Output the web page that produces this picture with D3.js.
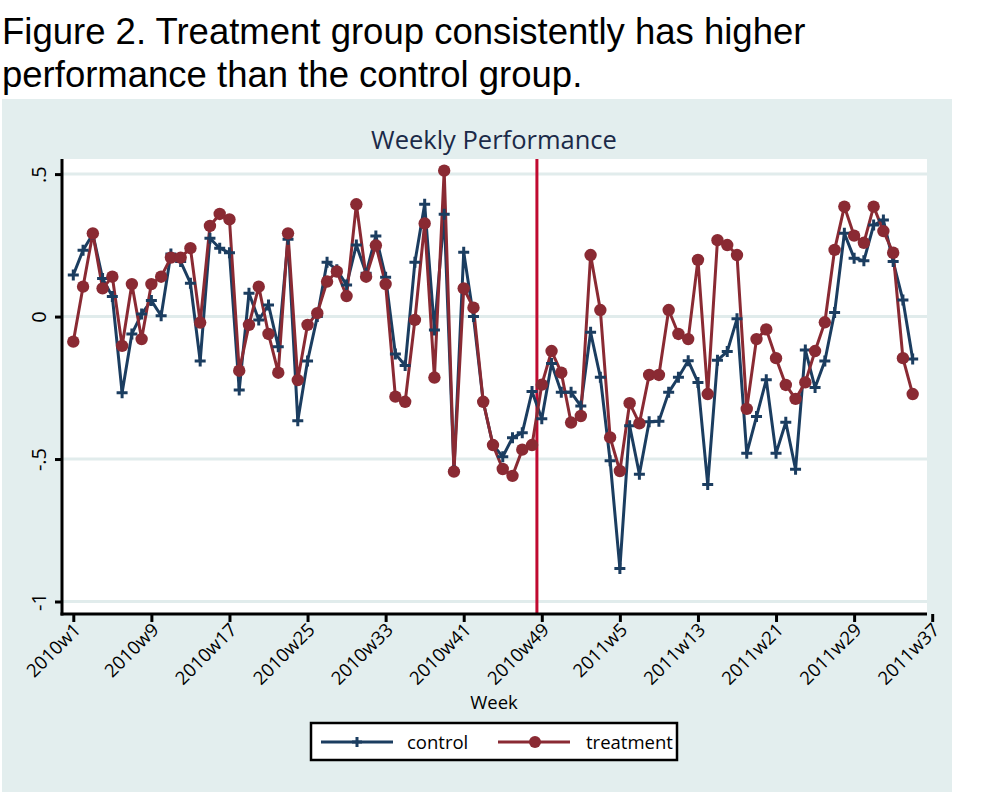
<!DOCTYPE html>
<html>
<head>
<meta charset="utf-8">
<script src="https://cdn.jsdelivr.net/npm/d3@7"></script>
<style>
  html, body { margin: 0; padding: 0; background: #ffffff; }
  svg { display: block; }
</style>
</head>
<body>
<svg id="chart" width="981" height="797"></svg>
<script>
// ---- data (week index 0 = 2010w1, index 86 = 2011w35) ----
const control = [
  0.146, 0.233, 0.290, 0.134, 0.070, -0.267, -0.061, 0.009, 0.056, 0.003,
  0.220, 0.193, 0.117, -0.156, 0.275, 0.240, 0.224, -0.258, 0.082, -0.012,
  0.041, -0.106, 0.271, -0.366, -0.156, 0.000, 0.191, 0.164, 0.111, 0.251,
  0.152, 0.283, 0.138, -0.131, -0.172, 0.191, 0.394, -0.047, 0.359, -0.540,
  0.226, 0.000, -0.299, -0.451, -0.492, -0.425, -0.408, -0.263, -0.359, -0.165,
  -0.266, -0.266, -0.314, -0.055, -0.213, -0.506, -0.884, -0.383, -0.553, -0.369,
  -0.367, -0.266, -0.213, -0.155, -0.231, -0.589, -0.153, -0.123, -0.008, -0.480,
  -0.351, -0.222, -0.480, -0.371, -0.536, -0.117, -0.249, -0.156, 0.014, 0.292,
  0.205, 0.196, 0.321, 0.339, 0.193, 0.058, -0.149
];
const treatment = [
  -0.088, 0.105, 0.292, 0.099, 0.140, -0.103, 0.114, -0.079, 0.114, 0.140,
  0.207, 0.207, 0.240, -0.021, 0.318, 0.360, 0.341, -0.190, -0.029, 0.105,
  -0.061, -0.197, 0.292, -0.223, -0.029, 0.012, 0.123, 0.158, 0.072, 0.394,
  0.140, 0.250, 0.114, -0.281, -0.299, -0.012, 0.327, -0.214, 0.512, -0.544,
  0.099, 0.031, -0.299, -0.451, -0.535, -0.559, -0.467, -0.451, -0.239, -0.121,
  -0.197, -0.372, -0.349, 0.216, 0.023, -0.424, -0.542, -0.304, -0.375, -0.205,
  -0.205, 0.023, -0.061, -0.079, 0.199, -0.272, 0.268, 0.251, 0.216, -0.324,
  -0.079, -0.045, -0.146, -0.240, -0.289, -0.231, -0.121, -0.020, 0.234, 0.386,
  0.284, 0.259, 0.386, 0.300, 0.224, -0.146, -0.272
];
const xTickIndex = [0, 8, 16, 24, 32, 40, 48, 56, 64, 72, 80, 88];
const xTickLabels = ["2010w1", "2010w9", "2010w17", "2010w25", "2010w33", "2010w41",
                     "2010w49", "2011w5", "2011w13", "2011w21", "2011w29", "2011w37"];
const yTicks = [0.5, 0, -0.5, -1];
const yTickLabels = [".5", "0", "-.5", "-1"];
const markerLine = 47.5;   // vertical reference line (between 2010w48 and 2010w49)
const seriesNames = ["control", "treatment"];

// ---- layout ----
const svg = d3.select("#chart");
const colControl = "#1b3d60";
const colTreat = "#8a2a33";
const colRef = "#c00a30";
const bg = "#e3eeee";
const gridCol = "#e1ecec";
const sans = "Open Sans, DejaVu Sans, sans-serif";

const plot = { left: 62, right: 927, top: 159, bottom: 614 };
const x = d3.scaleLinear().domain([0, 88]).range([73.3, 932.2]);
const y = d3.scaleLinear().domain([0.5, -1]).range([174.1, 601.5]);

// figure title
const ft = svg.append("text").attr("font-family", "Liberation Sans, Arial, sans-serif")
  .attr("font-size", 36.5).attr("fill", "#000");
ft.append("tspan").attr("x", 2).attr("y", 44).text("Figure 2. Treatment group consistently has higher");
ft.append("tspan").attr("x", 2).attr("y", 87).text("performance than the control group.");

// graph background
svg.append("rect").attr("x", 2).attr("y", 99).attr("width", 950).attr("height", 693).attr("fill", bg);
svg.append("rect").attr("x", plot.left).attr("y", plot.top)
  .attr("width", plot.right - plot.left).attr("height", plot.bottom - plot.top).attr("fill", "#fff");

// chart title
svg.append("text").attr("x", 494).attr("y", 149).attr("text-anchor", "middle")
  .attr("font-family", sans).attr("font-size", 25.5)
  .attr("fill", "#1b2a48").text("Weekly Performance");

// gridlines
svg.append("g").selectAll("line").data(yTicks).join("line")
  .attr("x1", plot.left).attr("x2", plot.right)
  .attr("y1", d => y(d)).attr("y2", d => y(d))
  .attr("stroke", gridCol).attr("stroke-width", 3);

// reference line
svg.append("line").attr("x1", x(markerLine)).attr("x2", x(markerLine))
  .attr("y1", plot.top).attr("y2", plot.bottom)
  .attr("stroke", colRef).attr("stroke-width", 3);

// series
const line = d3.line().x((d, i) => x(i)).y(d => y(d));
svg.append("path").datum(control).attr("d", line).attr("fill", "none")
  .attr("stroke", colControl).attr("stroke-width", 3).attr("stroke-linejoin", "round");
svg.append("path").datum(treatment).attr("d", line).attr("fill", "none")
  .attr("stroke", colTreat).attr("stroke-width", 3).attr("stroke-linejoin", "round");

// markers: control plus signs
const plusPath = s => `M${-s},0H${s}M0,${-s}V${s}`;
svg.append("g").selectAll("path").data(control).join("path")
  .attr("transform", (d, i) => `translate(${x(i)},${y(d)})`)
  .attr("d", plusPath(5.5)).attr("stroke", colControl).attr("stroke-width", 3).attr("fill", "none");
// treatment circles
svg.append("g").selectAll("circle").data(treatment).join("circle")
  .attr("cx", (d, i) => x(i)).attr("cy", d => y(d)).attr("r", 6.2).attr("fill", colTreat);

// axes
const yAxis = d3.axisLeft(y).tickValues(yTicks).tickSize(7).tickFormat((d, i) => yTickLabels[i]);
const gy = svg.append("g").attr("transform", `translate(${plot.left},0)`).call(yAxis);
gy.select(".domain").remove();
gy.selectAll(".tick line").attr("stroke", "#000").attr("stroke-width", 3);
gy.selectAll(".tick text").attr("font-family", sans)
  .attr("font-size", 20).attr("fill", "#000")
  .attr("x", null).attr("dy", null)
  .attr("text-anchor", "middle")
  .attr("transform", "translate(-16,0) rotate(-90)");

const xAxis = d3.axisBottom(x).tickValues(xTickIndex).tickSize(8).tickFormat((d, i) => xTickLabels[i]);
const gx = svg.append("g").attr("transform", `translate(0,${plot.bottom})`).call(xAxis);
gx.select(".domain").remove();
gx.selectAll(".tick line").attr("stroke", "#000").attr("stroke-width", 3);
gx.selectAll(".tick text").attr("font-family", sans)
  .attr("font-size", 18.5).attr("fill", "#000")
  .attr("y", null).attr("dy", null)
  .attr("text-anchor", "end")
  .attr("transform", "translate(8,17) rotate(-45)");

// axis lines
svg.append("line").attr("x1", plot.left).attr("x2", plot.left)
  .attr("y1", plot.top).attr("y2", plot.bottom + 1.5).attr("stroke", "#000").attr("stroke-width", 3);
svg.append("line").attr("x1", plot.left - 1.5).attr("x2", plot.right)
  .attr("y1", plot.bottom).attr("y2", plot.bottom).attr("stroke", "#000").attr("stroke-width", 3);

// x axis title
svg.append("text").attr("x", 494).attr("y", 709).attr("text-anchor", "middle")
  .attr("font-family", sans).attr("font-size", 18.5)
  .attr("fill", "#000").text("Week");

// legend
const lg = svg.append("g");
lg.append("rect").attr("x", 311).attr("y", 723).attr("width", 366).attr("height", 37)
  .attr("fill", "#fff").attr("stroke", "#000").attr("stroke-width", 2.5);
const legendItems = [
  { name: seriesNames[0], color: colControl, x0: 321, tx: 407, marker: "plus" },
  { name: seriesNames[1], color: colTreat, x0: 498, tx: 586, marker: "circle" }
];
legendItems.forEach(it => {
  lg.append("line").attr("x1", it.x0).attr("x2", it.x0 + 72).attr("y1", 742).attr("y2", 742)
    .attr("stroke", it.color).attr("stroke-width", 3);
  if (it.marker === "plus") {
    lg.append("path").attr("transform", `translate(${it.x0 + 36},742)`).attr("d", plusPath(5))
      .attr("stroke", it.color).attr("stroke-width", 3);
  } else {
    lg.append("circle").attr("cx", it.x0 + 37).attr("cy", 742).attr("r", 6).attr("fill", it.color);
  }
  lg.append("text").attr("x", it.tx).attr("y", 749).attr("font-family", sans)
    .attr("font-size", 18.5).attr("fill", "#000").text(it.name);
});
</script>
</body>
</html>
